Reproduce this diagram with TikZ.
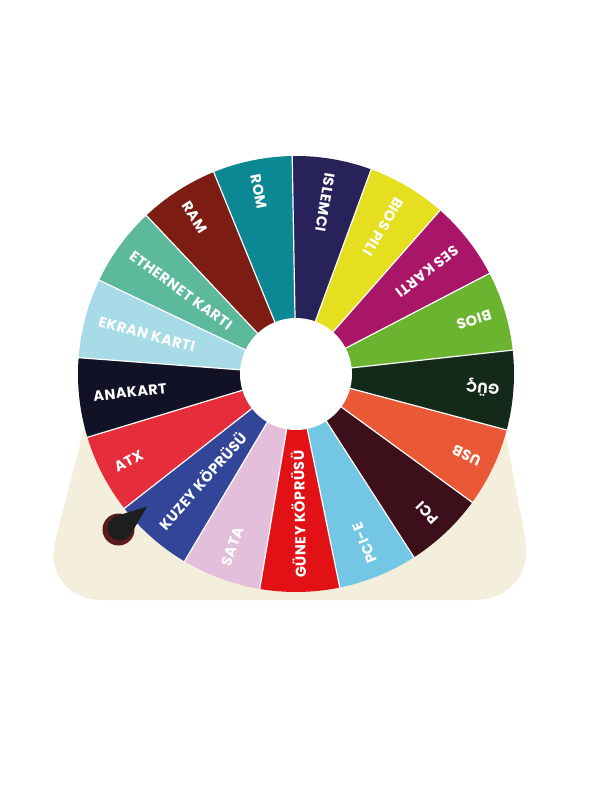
\documentclass[tikz,border=0pt]{standalone}
\usepackage{fontspec}
\setmainfont{Poppins}[LetterSpace=3]
\usepackage{tikz}
\usetikzlibrary{calc}
\definecolor{cream}{HTML}{F4EFDC}
\definecolor{cIslemci}{HTML}{27235A}
\definecolor{cBiosPili}{HTML}{E5DF1F}
\definecolor{cSes}{HTML}{A91567}
\definecolor{cBios}{HTML}{6AB42F}
\definecolor{cGuc}{HTML}{13291A}
\definecolor{cUsb}{HTML}{EA5936}
\definecolor{cPci}{HTML}{3C0F1B}
\definecolor{cPcie}{HTML}{73C7E5}
\definecolor{cGuney}{HTML}{E11116}
\definecolor{cSata}{HTML}{E4BFDB}
\definecolor{cKuzey}{HTML}{334598}
\definecolor{cAtx}{HTML}{E52D3C}
\definecolor{cAnakart}{HTML}{121226}
\definecolor{cEkran}{HTML}{A8DBE8}
\definecolor{cEthernet}{HTML}{5CB99C}
\definecolor{cRam}{HTML}{7C1C12}
\definecolor{cRom}{HTML}{0B8893}
\definecolor{knob}{HTML}{5B1B1E}
\definecolor{needle}{HTML}{1E1E1E}
\tikzset{
  slice/.style    ={line width=0pt},
  gap/.style      ={draw=white,line width=1.2pt},
  slicelabel/.style={text=white,inner sep=0pt,anchor=west,
                     font=\bfseries\fontsize{14.5}{14.5}\selectfont},
  stand/.style    ={fill=cream,rounded corners=62pt}
}

\begin{document}
\begin{tikzpicture}[x=1pt,y=1pt]
  \useasboundingbox (-296,-418) rectangle (316,374);
  \coordinate (hub) at (0,0);
  % cream stand behind the wheel
  \fill[stand] (-198,0) -- (-256,-226) -- (241,-226) -- (198,0) -- cycle;
  % wheel slices, clockwise from the top
  \foreach \lbl/\col [count=\i from 0] in {ISLEMCI/cIslemci,BIOS PILI/cBiosPili,
      SES KARTI/cSes,BIOS/cBios,GÜÇ/cGuc,USB/cUsb,PCI/cPci,PCI-E/cPcie,
      GÜNEY KÖPRÜSÜ/cGuney,SATA/cSata,KUZEY KÖPRÜSÜ/cKuzey,ATX/cAtx,
      ANAKART/cAnakart,EKRAN KARTI/cEkran,ETHERNET KARTI/cEthernet,RAM/cRam,ROM/cRom}{
    \pgfmathsetmacro\a{91-\i*360/17}
    \pgfmathsetmacro\m{\a-180/17}
    \fill[slice,\col] (hub) -- (\a:218) arc[start angle=\a,end angle=\a-360/17,radius=218] -- cycle;
    \node[slicelabel,rotate=\m+180] (lbl\i) at (\m:204) {\lbl};
  }
  \foreach \i in {0,...,16}{
    \draw[gap] ($(hub)+(91-\i*360/17:50)$) -- ($(hub)+(91-\i*360/17:219)$);
  }
  \fill[white] (hub) circle[radius=56];
  % pointer
  \coordinate (pin) at (-176,-154);
  \coordinate (tip) at (-149,-132.5);
  \fill[knob] (-177.5,-155.5) circle[radius=16];
  \fill[needle] (tip) -- ($(pin)+(107.3:12.5)$) arc[start angle=107.3,end angle=329.7,radius=12.5] -- cycle;
\end{tikzpicture}
\end{document}
